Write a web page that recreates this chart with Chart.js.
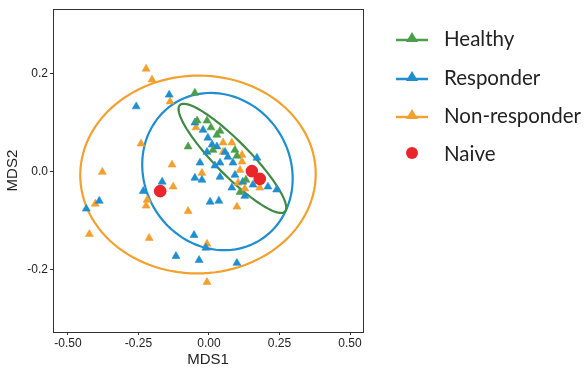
<!DOCTYPE html>
<html>
<head>
    <meta charset="UTF-8">
    <title>MDS</title>
    <script src="https://cdn.jsdelivr.net/npm/chart.js@4.4.0/dist/chart.umd.min.js"></script>
    <style>
        body { margin: 0; background: #fff; }
        #wrap { width: 587px; height: 369px; }
    </style>
</head>
<body>
<div id="wrap"><canvas id="mds"></canvas></div>
<script>
    // values (MDS1, MDS2)
    let healthyX = [-0.050, -0.042, -0.007, 0.007, 0.039, 0.028, -0.074, 0.014, 0.092, 0.099, 0.131, 0.110];
    let healthyY = [0.161, 0.104, 0.104, 0.090, 0.083, 0.075, 0.051, 0.044, 0.044, 0.032, -0.017, -0.042];

    let responderX = [-0.258, -0.141, -0.050, -0.021, -0.004, 0.011, -0.007, 0.028, 0.057, 0.067, 0.085, 0.039,
        0.021, 0.170, -0.032, 0.039, 0.092, -0.050, -0.025, 0.120, 0.081, 0.127, 0.156, 0.209, 0.240,
        -0.233, -0.166, -0.389, -0.435, 0.004, 0.035, -0.053, -0.011, -0.117, -0.035, 0.099];
    let responderY = [0.133, 0.157, 0.100, 0.085, 0.069, 0.055, 0.040, 0.051, 0.040, 0.030, 0.018, 0.018,
        0.012, 0.028, 0.018, -0.011, -0.007, -0.013, -0.017, -0.021, -0.033, -0.050, -0.027, -0.031, -0.037,
        -0.040, -0.021, -0.060, -0.076, -0.062, -0.060, -0.130, -0.156, -0.173, -0.181, -0.187];

    let nonResponderX = [-0.223, -0.202, -0.138, -0.241, -0.131, -0.378, -0.127, -0.219, -0.223, -0.403, -0.424,
        -0.212, -0.074, 0.099, -0.007, -0.007, -0.046, 0.050, 0.081, 0.050, 0.117, 0.117, 0.110, -0.025,
        0.103, 0.180, 0.127];
    let nonResponderY = [0.210, 0.188, 0.143, 0.057, 0.014, -0.001, -0.031, -0.058, -0.070, -0.066, -0.128,
        -0.136, -0.081, -0.072, -0.148, -0.226, 0.090, 0.059, 0.059, 0.040, 0.034, 0.020, 0.003, -0.003,
        -0.023, -0.033, -0.035];

    let naiveX = [0.152, 0.180, -0.173];
    let naiveY = [0.001, -0.015, -0.040];

    // group ellipses: centre, first and second semi-axis vectors (data units)
    let ellipseCenter = [[-0.039, -0.006], [0.030, 0.000], [0.083, 0.027]];
    let ellipseAxisA = [[0.417, 0.010], [0.262, 0.016], [0.186, -0.109]];
    let ellipseAxisB = [[-0.018, 0.202], [-0.050, 0.160], [0.043, 0.024]];

    let xTicks = [-0.50, -0.25, 0.00, 0.25, 0.50];
    let yTicks = [-0.2, 0.0, 0.2];
    let legendLabels = ["Healthy", "Responder", "Non-responder", "Naive"];

    const GREEN = '#4c9e4a', BLUE = '#1e8ecf', ORANGE = '#f3a02e', RED = '#e8262c';
    const ellipseColors = [ORANGE, BLUE, '#3f8a45'];

    function pts(xs, ys) {
        return xs.map((v, i) => ({ x: v, y: ys[i] }));
    }

    const extras = {
        id: 'extras',
        beforeDatasetsDraw(chart) {
            const ctx = chart.ctx, xs = chart.scales.x, ys = chart.scales.y;
            ctx.save();
            ctx.lineWidth = 2.2;
            for (let e = 0; e < ellipseCenter.length; e++) {
                ctx.strokeStyle = ellipseColors[e];
                ctx.beginPath();
                for (let k = 0; k <= 120; k++) {
                    const t = k / 120 * Math.PI * 2;
                    const dx = ellipseCenter[e][0] + ellipseAxisA[e][0] * Math.cos(t) + ellipseAxisB[e][0] * Math.sin(t);
                    const dy = ellipseCenter[e][1] + ellipseAxisA[e][1] * Math.cos(t) + ellipseAxisB[e][1] * Math.sin(t);
                    const px = xs.getPixelForValue(dx), py = ys.getPixelForValue(dy);
                    if (k === 0) ctx.moveTo(px, py); else ctx.lineTo(px, py);
                }
                ctx.closePath();
                ctx.stroke();
            }
            ctx.restore();
        },
        afterDraw(chart) {
            const ctx = chart.ctx, a = chart.chartArea;
            ctx.save();
            ctx.strokeStyle = '#333';
            ctx.lineWidth = 1;
            ctx.strokeRect(Math.round(a.left) + 0.5, Math.round(a.top) + 0.5, Math.round(a.right - a.left), Math.round(a.bottom - a.top));

            // legend
            const cols = [GREEN, BLUE, ORANGE, RED];
            const rowY = [38, 77, 115, 153];
            ctx.font = '20.5px Lato';
            ctx.textBaseline = 'middle';
            for (let i = 0; i < legendLabels.length; i++) {
                const y = rowY[i];
                ctx.fillStyle = cols[i];
                ctx.strokeStyle = cols[i];
                if (i < 3) {
                    ctx.lineWidth = 2.5;
                    ctx.beginPath();
                    ctx.moveTo(396, y + 2);
                    ctx.lineTo(428, y + 2);
                    ctx.stroke();
                    ctx.beginPath();
                    ctx.moveTo(412, y - 6);
                    ctx.lineTo(418, y + 4);
                    ctx.lineTo(406, y + 4);
                    ctx.closePath();
                    ctx.fill();
                } else {
                    ctx.beginPath();
                    ctx.arc(412, y, 6, 0, Math.PI * 2);
                    ctx.fill();
                }
                ctx.fillStyle = '#222';
                ctx.fillText(legendLabels[i], 444, y + 1);
            }
            ctx.restore();
        }
    };

    const tri = { pointStyle: 'triangle', pointRadius: 4.6, borderWidth: 0.6 };

    new Chart(document.getElementById('mds'), {
        type: 'scatter',
        data: {
            datasets: [
                Object.assign({ label: 'Naive', data: pts(naiveX, naiveY), backgroundColor: RED, borderColor: RED,
                    pointStyle: 'circle', pointRadius: 6.3, borderWidth: 0, order: 0 }),
                Object.assign({ label: 'Healthy', data: pts(healthyX, healthyY), backgroundColor: GREEN, borderColor: GREEN, order: 1 }, tri),
                Object.assign({ label: 'Responder', data: pts(responderX, responderY), backgroundColor: BLUE, borderColor: BLUE, order: 2 }, tri),
                Object.assign({ label: 'Non-responder', data: pts(nonResponderX, nonResponderY), backgroundColor: ORANGE, borderColor: ORANGE, order: 3 }, tri)
            ]
        },
        options: {
            responsive: true,
            maintainAspectRatio: false,
            animation: false,
            layout: { padding: { top: 9, right: 224, left: 0, bottom: 0 } },
            plugins: { legend: { display: false }, tooltip: { enabled: false } },
            scales: {
                x: {
                    type: 'linear', min: -0.553, max: 0.546,
                    afterBuildTicks: s => { s.ticks = xTicks.map(v => ({ value: v })); },
                    afterFit: s => { s.height = 37; },
                    ticks: { callback: v => v.toFixed(2), color: '#222', font: { family: 'Liberation Sans', size: 12 }, padding: 1, maxRotation: 0 },
                    grid: { drawOnChartArea: false, drawTicks: true, tickLength: 3, color: '#333' },
                    border: { display: true, color: '#333' },
                    title: { display: true, text: 'MDS1', color: '#222', font: { family: 'Liberation Sans', size: 15 }, padding: { top: 0, bottom: 0 } }
                },
                y: {
                    type: 'linear', min: -0.328, max: 0.332,
                    afterBuildTicks: s => { s.ticks = yTicks.map(v => ({ value: v })); },
                    afterFit: s => { s.width = 53; },
                    ticks: { callback: v => v.toFixed(1), color: '#222', font: { family: 'Liberation Sans', size: 12 }, padding: 2 },
                    grid: { drawOnChartArea: false, drawTicks: true, tickLength: 3, color: '#333' },
                    border: { display: true, color: '#333' },
                    title: { display: true, text: 'MDS2', color: '#222', font: { family: 'Liberation Sans', size: 15 }, padding: { top: 4, bottom: 0 } }
                }
            }
        },
        plugins: [extras]
    });
</script>
</body>
</html>
